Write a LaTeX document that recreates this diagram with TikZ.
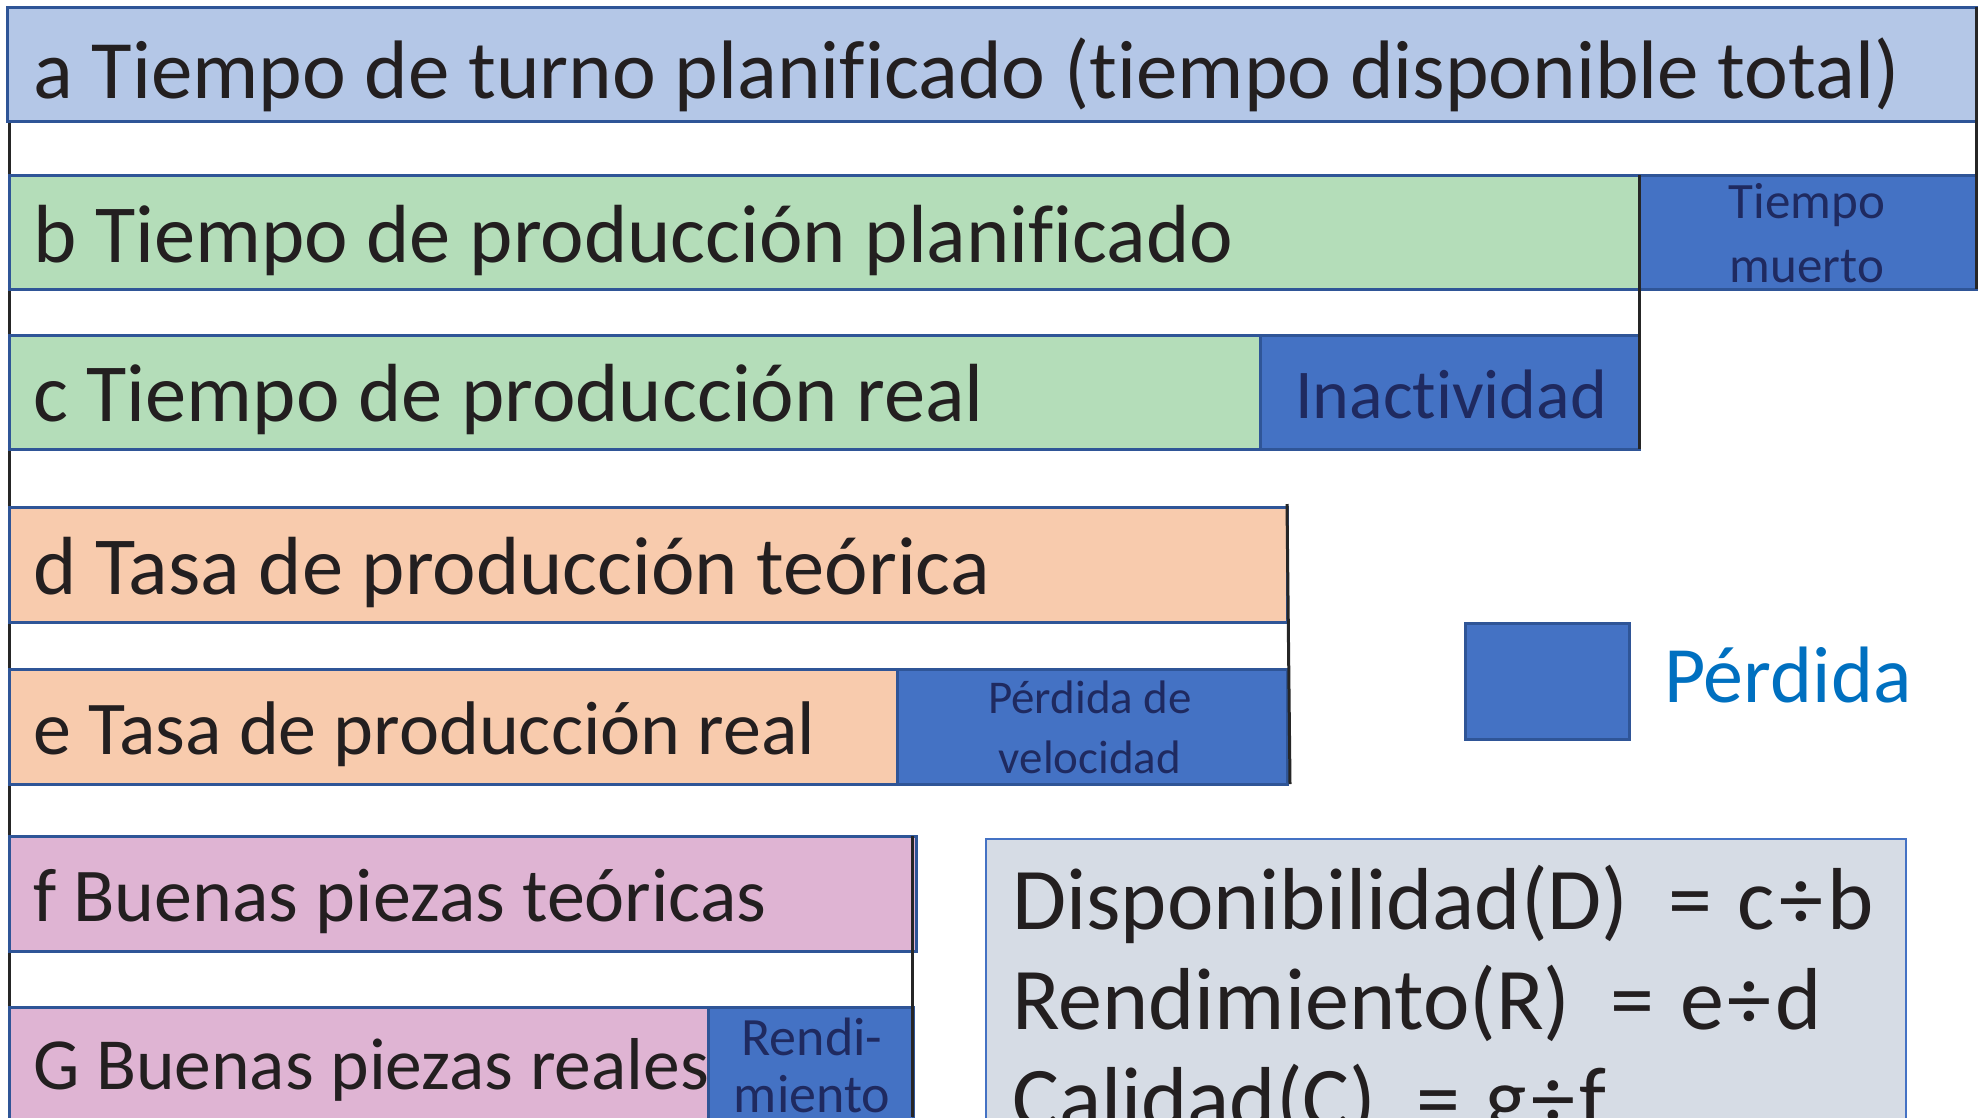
\documentclass[tikz,border=0pt]{standalone}
\usepackage{fontspec}
\setmainfont[Ligatures={NoCommon,NoDiscretionary,NoRare,NoContextual}]{Carlito}
\definecolor{barline}{HTML}{2F5597}
\definecolor{fa}{HTML}{B4C7E7}
\definecolor{fgreen}{HTML}{B4DDB9}
\definecolor{fpeach}{HTML}{F8CBAD}
\definecolor{fpink}{HTML}{DFB4D3}
\definecolor{floss}{HTML}{4472C4}
\definecolor{fform}{HTML}{D6DCE5}
\definecolor{txtdark}{HTML}{231F20}
\definecolor{txtnavy}{HTML}{1F2A60}
\definecolor{txtlegend}{HTML}{0070C0}
\newcommand{\divsym}{\hspace{4pt}÷\hspace{4pt}}
\begin{document}
\begin{tikzpicture}[x=1pt,y=-1pt,
  bar/.style={draw=barline, line width=3pt, inner sep=0pt, outer sep=0pt, anchor=north west},
  loss/.style={bar, fill=floss},
  blk/.style={draw=black!85, line width=3pt},
  maintxt/.style={inner sep=0pt, anchor=base west, text=txtdark, font=\fontsize{82.5}{100}\selectfont},
  smalltxt/.style={maintxt, font=\fontsize{76}{90}\selectfont},
  losstxt/.style={inner sep=0pt, anchor=base, text=txtnavy},
  formtxt/.style={inner sep=0pt, anchor=base west, text=txtdark, font=\fontsize{88}{100}\selectfont},
]
\useasboundingbox (0,0) rectangle (1980,1117);
\coordinate (bottomleft) at (9,1117);
\coordinate (bottomf) at (913,1117);
% black guide line on the left (behind boxes)
\draw[blk] (9,121) -- (bottomleft);
% bars
\node[bar, fill=fa, minimum width=1969pt, minimum height=114pt] (a) at (7,7) {};
\node[bar, fill=fgreen, minimum width=1630pt, minimum height=114pt] (b) at (9,175) {};
\node[loss, minimum width=337pt, minimum height=114pt] (tm) at (1639,175) {};
\node[bar, fill=fgreen, minimum width=1251pt, minimum height=114pt] (c) at (9,335) {};
\node[loss, minimum width=379pt, minimum height=114pt] (ina) at (1260,335) {};
\node[bar, fill=fpeach, minimum width=1278pt, minimum height=115pt] (d) at (9,507) {};
\node[bar, fill=fpeach, minimum width=888pt, minimum height=115pt] (e) at (9,669) {};
\node[loss, minimum width=390pt, minimum height=115pt] (vel) at (897,669) {};
\node[bar, fill=fpink, minimum width=907pt, minimum height=115pt] (f) at (9,836) {};
\node[bar, fill=fpink, minimum width=699pt, minimum height=130pt] (g) at (9,1007) {};
\node[loss, minimum width=205pt, minimum height=130pt] (rend) at (708,1007) {};
% legend
\node[loss, minimum width=164pt, minimum height=116pt] (leg) at (1465,623) {};
% formula box
\node[draw=floss, line width=1.5pt, fill=fform, inner sep=0pt, anchor=north west,
      minimum width=920pt, minimum height=300pt] (form) at (985,838) {};
% black guide lines
\draw[blk] (a.north east) -- (tm.south east);
\draw[blk] (b.north east) -- (ina.south east);
\draw[blk] ([yshift=3pt]d.north east) -- ([xshift=3pt]vel.south east);
\draw[blk] ([xshift=-4pt]f.north east) -- ([xshift=-4pt]f.north east |- bottomf);
% texts
\node[maintxt, font=\fontsize{83}{100}\selectfont] (ta) at (33,98) {a Tiempo de turno planificado (tiempo disponible total)};
\node[maintxt] (tb) at (33,262) {b Tiempo de producción planificado};
\node[maintxt] (tc) at (33,421) {c Tiempo de producción real};
\node[maintxt] (td) at (33,594) {d Tasa de producción teórica};
\node[smalltxt] (te) at (33,754) {e Tasa de producción real};
\node[smalltxt] (tf) at (33,921) {f Buenas piezas teóricas};
\node[smalltxt, font=\fontsize{73.5}{90}\selectfont] (tg) at (33,1089) {G Buenas piezas reales};
\node[losstxt, font=\fontsize{51}{60}\selectfont] (ttm1) at (1807,218) {Tiempo};
\node[losstxt, font=\fontsize{51}{60}\selectfont] (ttm2) at (1807,282) {muerto};
\node[losstxt, font=\fontsize{70}{80}\selectfont] (tina) at (1451,418) {Inactividad};
\node[losstxt, font=\fontsize{47}{56}\selectfont] (tvel1) at (1090,713) {Pérdida de};
\node[losstxt, font=\fontsize{47}{56}\selectfont] (tvel2) at (1090,773) {velocidad};
\node[losstxt, font=\fontsize{54}{60}\selectfont] (trend1) at (812,1055) {Rendi-};
\node[losstxt, font=\fontsize{54}{60}\selectfont] (trend2) at (812,1112) {miento};
\node[inner sep=0pt, anchor=base west, text=txtlegend, font=\fontsize{80}{90}\selectfont] (tleg) at (1664,702) {Pérdida};
\node[formtxt] (f1) at (1012,929) {Disponibilidad(D)\ \ =\hspace{6pt} c\divsym b};
\node[formtxt] (f2) at (1012,1029) {Rendimiento(R)\ \ =\hspace{6pt} e\divsym d};
\node[formtxt] (f3) at (1012,1128) {Calidad(C)\ \ =\hspace{6pt} g\divsym f};
\end{tikzpicture}
\end{document}
